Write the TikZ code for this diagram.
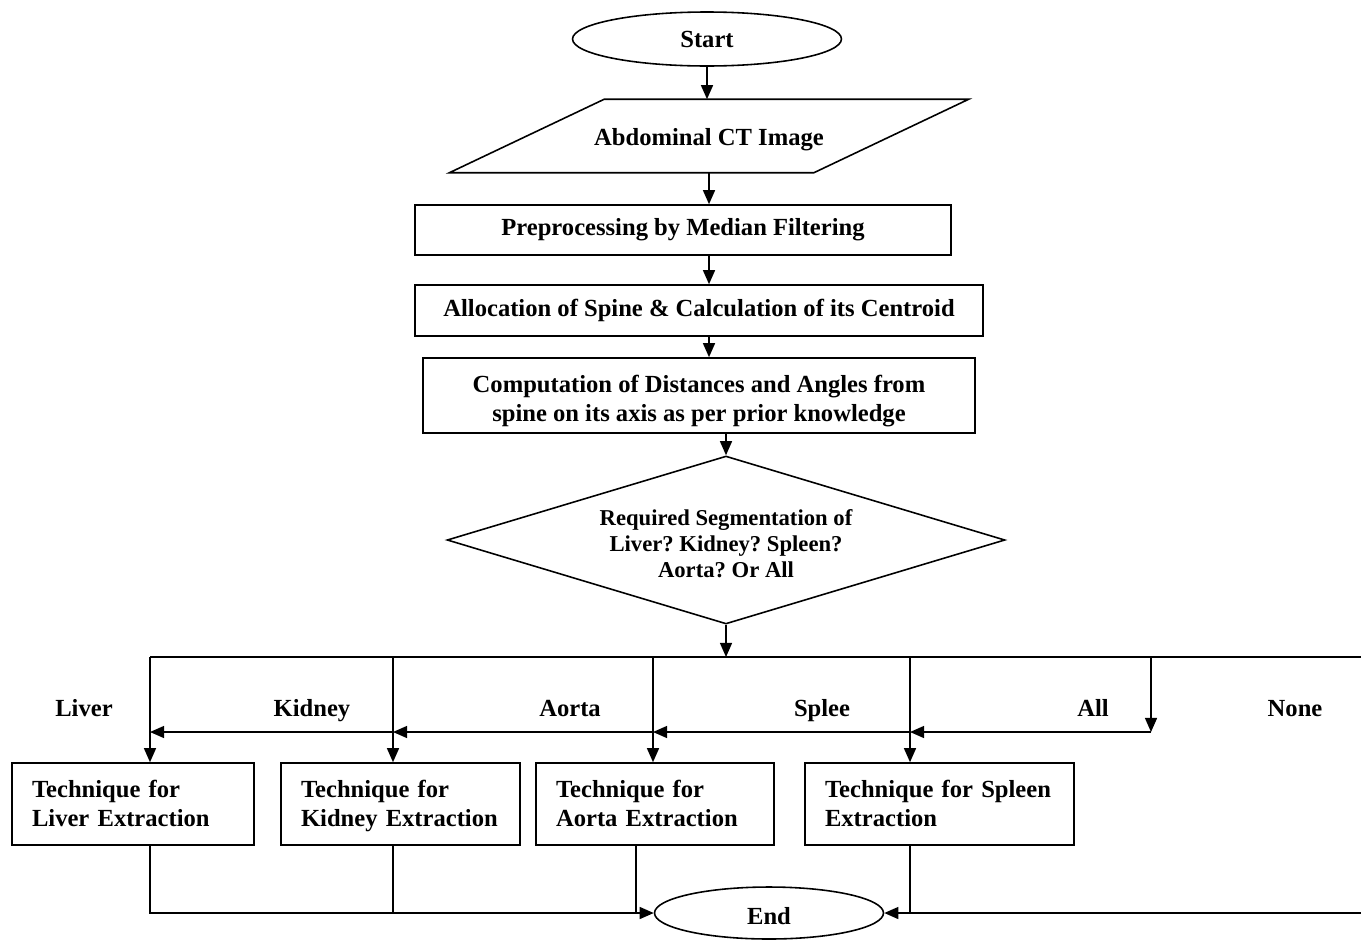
\documentclass[tikz,border=0pt]{standalone}
\usepackage{fontspec}
\setmainfont{Liberation Serif}
\frenchspacing
\usetikzlibrary{shapes.geometric, arrows.meta, positioning, calc}
\tikzset{
  flow/.style={
	line width=0.9pt,
	>={Triangle[length=8pt,width=6.8pt]}, % filled arrow heads
	x=0.02cm, y=-0.02cm, % one unit is one pixel of the drawing
	every node/.style={font=\fontsize{14}{16.5}\selectfont\bfseries},
	terminal/.style={draw, ellipse, inner sep=0pt}, % start and end
	process/.style={draw, rectangle, align=center, inner sep=0pt},
	io/.style={rectangle, inner sep=0pt}, % the slanted border is drawn below
	decision/.style={draw, diamond, aspect=3.3, inner sep=0pt, align=center,
		font=\fontsize{12.9}{14.8}\selectfont\bfseries},
	tech/.style={draw, rectangle, align=left, inner xsep=0.4cm, minimum height=1.64cm},
  }
}
\begin{document}
\begin{tikzpicture}[flow]
	\useasboundingbox (0,0) rectangle (1361,940);
	\node[terminal, minimum width=5.38cm, minimum height=1.08cm] (start) at (707,39) {Start};
	\node[io, minimum width=10.36cm, minimum height=1.44cm, text height=13pt, text depth=2pt] (img) at (709,136) {Abdominal CT Image};
	\draw ([xshift=3.1cm]img.north west) -- (img.north east) -- ([xshift=-3.1cm]img.south east) -- (img.south west) -- cycle;
	\node[process, minimum width=10.72cm, minimum height=1cm] (prep) at (683,230) {Preprocessing by Median Filtering};
	\node[process, minimum width=11.36cm, minimum height=1.02cm] (alloc) at (699,310.5) {Allocation of Spine \& Calculation of its Centroid};
	\node[process, minimum width=11.04cm, minimum height=1.5cm] (comp) at (699,395.5) {\rule{0pt}{16.5pt}Computation of Distances and Angles from\\spine on its axis as per prior knowledge};
	\node[decision, minimum width=11.16cm, minimum height=3.36cm] (seg) at (726,540) {\rule{0pt}{13pt}Required Segmentation of\\Liver? Kidney? Spleen?\\Aorta? Or All};

	% the four techniques
	\node[tech, text width=4.04cm] (liv) at (133,804) {\rule{0pt}{14.5pt}Technique for\\Liver Extraction\strut};
	\node[tech, text width=3.98cm] (kid) at (400.5,804) {\rule{0pt}{14.5pt}Technique for\\Kidney Extraction\strut};
	\node[tech, text width=3.96cm] (aor) at (655,804) {\rule{0pt}{14.5pt}Technique for\\Aorta Extraction\strut};
	\node[tech, text width=4.58cm] (spl) at (939.5,804) {\rule{0pt}{14.5pt}Technique for Spleen\\Extraction\strut};
	\node[terminal, minimum width=4.58cm, minimum height=1.04cm, text height=13.5pt, text depth=0pt] (fin) at (769,913) {End};

	% branch labels
	\node (lliv) at (84,711) {Liver\strut};
	\node (lkid) at (312,711) {Kidney\strut};
	\node (laor) at (570,711) {Aorta\strut};
	\node (lspl) at (822,711) {Splee\strut};
	\node (lall) at (1093,711) {All\strut};
	\node (lnon) at (1295,711) {None\strut};

	\coordinate (b0) at (150,657);
	\coordinate (b1) at (393,657);
	\coordinate (b2) at (653,657);
	\coordinate (b3) at (910,657);
	\coordinate (b4) at (1151,657);
	\coordinate (b5) at (1361,657);
	\coordinate (a4) at (1151,732);
	\coordinate (d2) at (636,845);

	\draw[->] (start) -- (start |- img.north);
	\draw[->] (img.south) -- (img.south |- prep.north);
	\draw[->] (img.south |- prep.south) -- (img.south |- alloc.north);
	\draw[->] (img.south |- alloc.south) -- (img.south |- comp.north);
	\draw[->] (seg.north |- comp.south) -- (seg.north);
	\draw[->] (seg.south) -- (seg.south |- b0);
	\draw (b0) -- (b5);
	\draw[->] (b0) -- (b0 |- liv.north);
	\draw[->] (b1) -- (b1 |- kid.north);
	\draw[->] (b2) -- (b2 |- aor.north);
	\draw[->] (b3) -- (b3 |- spl.north);
	\draw[->] (b4) -- (a4);
	\draw[->] (a4) -- (b3 |- a4);
	\draw[->] (b3 |- a4) -- (b2 |- a4);
	\draw[->] (b2 |- a4) -- (b1 |- a4);
	\draw[->] (b1 |- a4) -- (b0 |- a4);

	\draw[->] (b0 |- liv.south) -- (b0 |- fin.west) -- (fin.west);
	\draw (b1 |- kid.south) -- (b1 |- fin.west);
	\draw (d2) -- (d2 |- fin.west);
	\draw (b3 |- spl.south) -- (b3 |- fin.east);
	\draw[->] (b5 |- fin.east) -- (fin.east);
\end{tikzpicture}
\end{document}
